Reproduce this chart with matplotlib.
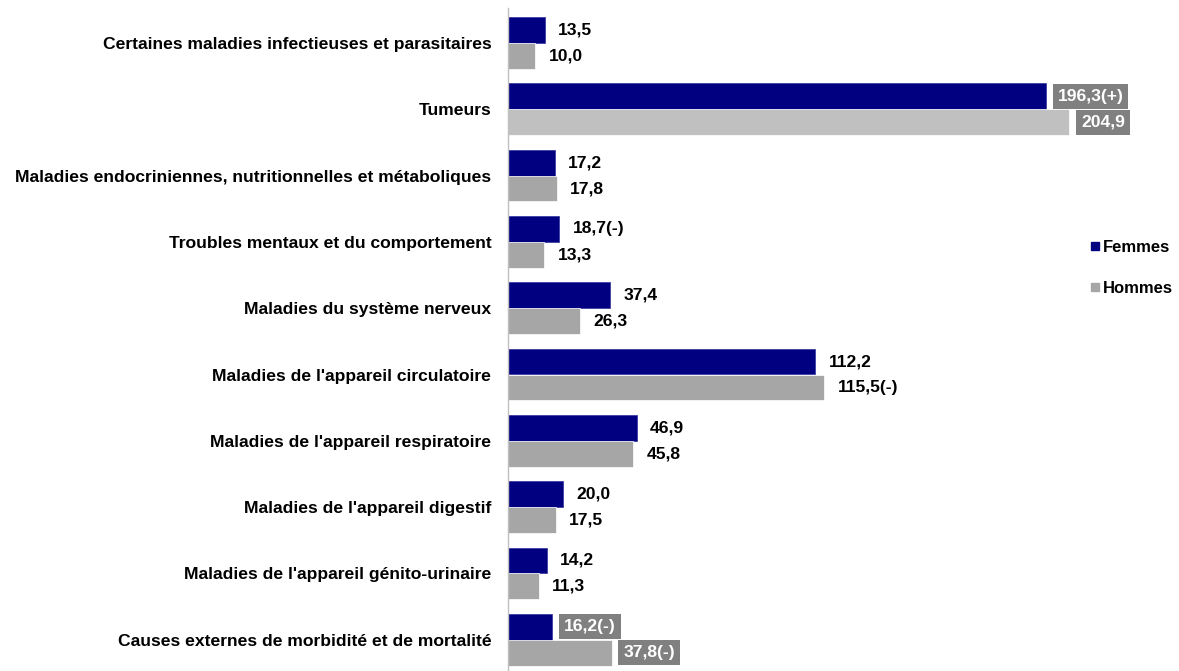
import matplotlib
matplotlib.use("Agg")
import matplotlib.pyplot as plt
from matplotlib.lines import Line2D

plt.rcParams['font.family'] = ['Liberation Sans', 'DejaVu Sans']

categories = [
    "Certaines maladies infectieuses et parasitaires",
    "Tumeurs",
    "Maladies endocriniennes, nutritionnelles et métaboliques",
    "Troubles mentaux et du comportement",
    "Maladies du système nerveux",
    "Maladies de l'appareil circulatoire",
    "Maladies de l'appareil respiratoire",
    "Maladies de l'appareil digestif",
    "Maladies de l'appareil génito-urinaire",
    "Causes externes de morbidité et de mortalité",
]
femmes = [13.5, 196.3, 17.2, 18.7, 37.4, 112.2, 46.9, 20.0, 14.2, 16.2]
hommes = [10.0, 204.9, 17.8, 13.3, 26.3, 115.5, 45.8, 17.5, 11.3, 37.8]
femmes_labels = ["13,5", "196,3(+)", "17,2", "18,7(-)", "37,4", "112,2", "46,9", "20,0", "14,2", "16,2(-)"]
hommes_labels = ["10,0", "204,9", "17,8", "13,3", "26,3", "115,5(-)", "45,8", "17,5", "11,3", "37,8(-)"]
femmes_boxed = [False, True, False, False, False, False, False, False, False, True]
hommes_boxed = [False, True, False, False, False, False, False, False, False, True]

c_f = "#000080"
c_h = "#A6A6A6"
c_h_light = "#C0C0C0"

W, H = 1179, 671
fig = plt.figure(figsize=(W / 100, H / 100), dpi=100)
ax_left = 508 / W
ax_top = 8
ax_bottom = 671
ax = fig.add_axes([ax_left, 1 - ax_bottom / H, 1 - ax_left, (ax_bottom - ax_top) / H])

step = 66.3
center0 = 43
ax.set_ylim((ax_bottom - center0) / step, (ax_top - center0) / step)
ax.set_xlim(0, (W - 508) / 2.74)

bh = 0.39
ys = list(range(len(categories)))
h_colors = [c_h_light if c == "Tumeurs" else c_h for c in categories]
ax.barh([y - bh / 2 for y in ys], femmes, height=bh, color=c_f, edgecolor="#3030a0", linewidth=0.5)
ax.barh([y + bh / 2 for y in ys], hommes, height=bh, color=h_colors, edgecolor="white", linewidth=0.5)

fs = 12.6
def put(v, y, lab, boxed):
    if boxed:
        ax.annotate(lab, (v, y), xytext=(8.5, 0), textcoords="offset points",
                    va="center", ha="left", fontsize=fs, fontweight="bold", color="white",
                    bbox=dict(boxstyle="square,pad=0.28", fc="#808080", ec="none"))
    else:
        ax.annotate(lab, (v, y), xytext=(9.5, 0), textcoords="offset points",
                    va="center", ha="left", fontsize=fs, fontweight="bold", color="black")

for y, v, lab, boxed in zip(ys, femmes, femmes_labels, femmes_boxed):
    put(v, y - bh / 2, lab, boxed)
for y, v, lab, boxed in zip(ys, hommes, hommes_labels, hommes_boxed):
    put(v, y + bh / 2, lab, boxed)

ax.set_yticks(ys)
ax.set_yticklabels(categories, fontsize=fs, fontweight="bold")
ax.tick_params(axis="y", length=0, pad=12)
ax.set_xticks([])
for s in ["top", "right", "bottom"]:
    ax.spines[s].set_visible(False)
ax.spines["left"].set_color("#BFBFBF")
ax.spines["left"].set_linewidth(1)

handles = [Line2D([], [], marker="s", linestyle="none", markersize=6, color=c_f),
           Line2D([], [], marker="s", linestyle="none", markersize=6, color=c_h)]
fig.legend(handles, ["Femmes", "Hommes"], loc="center left",
           bbox_to_anchor=(1089 / W, 1 - 268 / H), frameon=False, borderpad=0,
           borderaxespad=0,
           prop=dict(size=12, weight="bold"), handletextpad=0.15, labelspacing=1.55,
           handlelength=0.7)

fig.savefig("out.png", dpi=100)
